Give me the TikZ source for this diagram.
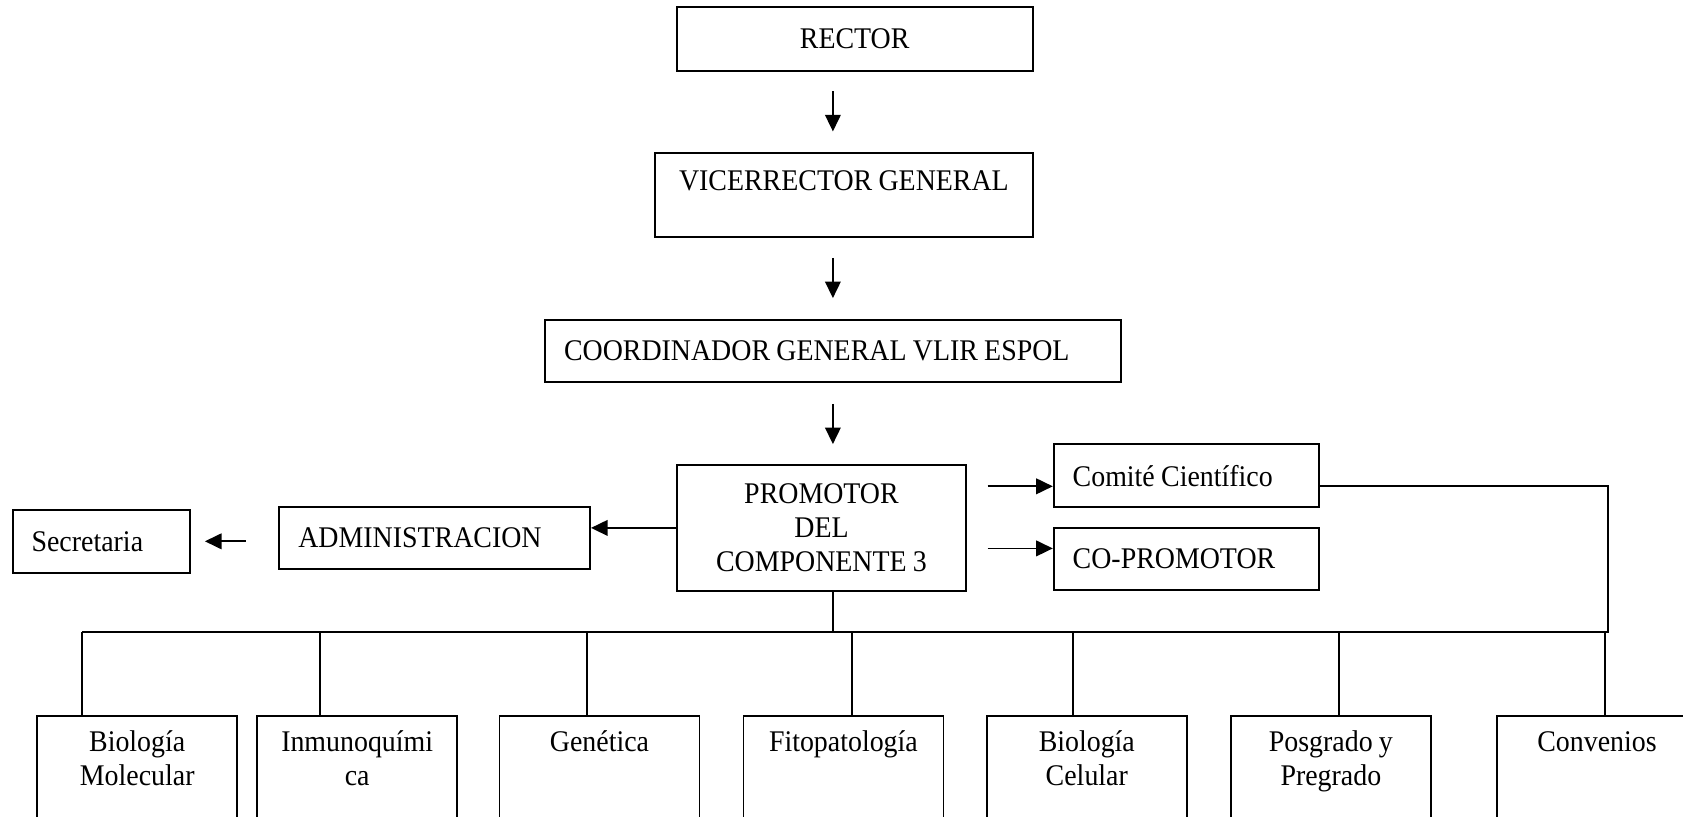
\documentclass[tikz,border=0pt]{standalone}
\usepackage{fontspec}
\setmainfont{Liberation Serif}[FakeStretch=0.93,WordSpace=0.9]
\usetikzlibrary{arrows.meta}

\begin{document}
\begin{tikzpicture}[x=0.5pt,y=-0.5pt,
    box/.style={draw, line width=0.9pt, inner sep=0pt, font=\fontsize{15}{17}\selectfont},
    leftbox/.style={box, inner xsep=9.5pt, align=flush left},
    unitbox/.style={box, anchor=north, text width=100pt, align=flush center, text height=17.8pt, text depth=60pt},
    arr/.style={-{Triangle[length=8.3pt,width=7.8pt]}, line width=0.9pt},
    link/.style={line width=0.9pt}]
        \useasboundingbox (0,0) rectangle (1683,816);
        \clip (0,0) rectangle (1683,816);

        \node[box, minimum width=178pt, minimum height=32pt] (rector) at (854.7,38.7) {RECTOR};
        \node[box, minimum width=188.9pt, text height=18.7pt, text depth=23.3pt] (vice) at (843.9,195.3) {VICERRECTOR GENERAL};
        \node[leftbox, text width=268.9pt, minimum height=31pt] (coord) at (832.9,351) {COORDINADOR GENERAL VLIR ESPOL};
        \node[box, minimum width=144.2pt, minimum height=62.9pt, align=center] (prom) at (821.5,527.9) {PROMOTOR\\DEL\\COMPONENTE 3};
        \node[leftbox, text width=113.6pt, minimum height=31.5pt] (comite) at (1186.3,475.8) {Comité Científico};
        \node[leftbox, text width=113.6pt, minimum height=31.2pt] (copro) at (1186.3,558.9) {CO-PROMOTOR};
        \node[leftbox, text width=136.4pt, minimum height=31.3pt] (admin) at (434.7,538) {ADMINISTRACION};
        \node[leftbox, text width=69.7pt, minimum height=31.3pt] (secre) at (101.3,541.3) {Secretaria};

        \node[unitbox] (bmol) at (137.2,715) {Biología\\Molecular};
        \node[unitbox] (inmu) at (357.2,715) {Inmunoquími\\ca};
        \node[unitbox] (gene) at (599.5,715) {Genética};
        \node[unitbox] (fito) at (843.4,715) {Fitopatología};
        \node[unitbox] (bcel) at (1086.8,715) {Biología\\Celular};
        \node[unitbox] (posg) at (1330.9,715) {Posgrado y\\Pregrado};
        \node[unitbox] (conv) at (1597,715) {Convenios};

        \draw[arr, shorten <=9.8pt, shorten >=10.5pt] (rector.south -| coord.north) -- (vice.north -| coord.north);
        \draw[arr, shorten <=9.8pt, shorten >=10.5pt] (vice.south -| coord.north) -- (coord.north);
        \draw[arr, shorten <=10.5pt, shorten >=10pt] (coord.south) -- (prom.north -| coord.south);

        \coordinate (c1) at ([yshift=-5.25pt]comite.west);
        \coordinate (c2) at ([yshift=5.25pt]copro.west);
        \coordinate (c3) at ([yshift=-5.25pt]comite.east);
        \coordinate (busL) at (82,631.7);
        \coordinate (busR) at (1607.7,631.7);

        \draw[arr] (prom.west) -- (prom.west -| admin.east);
        \draw[arr, shorten <=16.3pt, shorten >=7pt] (secre.east -| admin.west) -- (secre.east);
        \draw[arr, shorten <=10.5pt] (c1 -| prom.east) -- (c1);
        \draw[arr, shorten <=10.5pt] (c2 -| prom.east) -- (c2);

        \draw[link] (c3) -| (busR) -- (busL);
        \draw[link] (prom.south -| coord.south) -- (busL -| coord.south);
        \foreach \n/\d in {bmol/-27.6, inmu/-18.6, gene/-6.45, fito/4.2, bcel/-7, posg/4, conv/4} {
          \draw[link] ([xshift=\d pt]\n.north) -- ++(0,-83.3);
        }
\end{tikzpicture}
\end{document}
